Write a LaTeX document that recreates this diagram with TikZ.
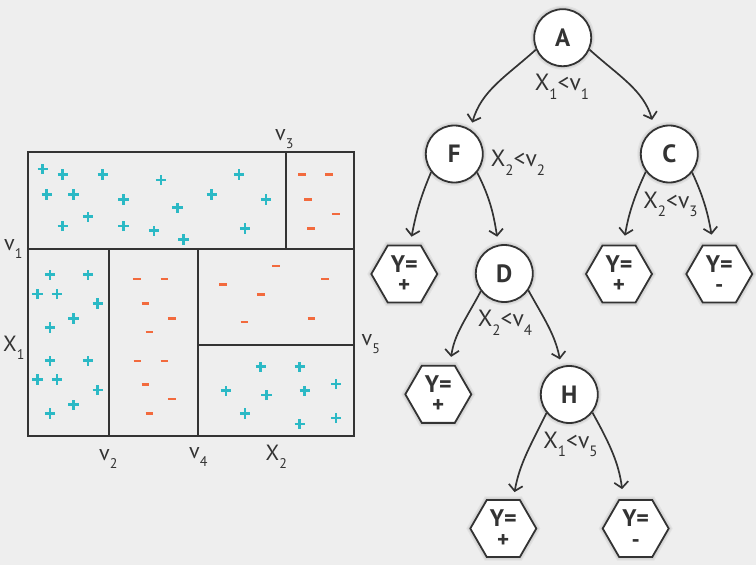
\documentclass[tikz,border=0pt]{standalone}
\usepackage{fontspec}
\setmainfont{PT Sans}
\usetikzlibrary{shapes.geometric,arrows.meta}
\definecolor{bg}{HTML}{EEEEEE}
\definecolor{ink}{HTML}{333333}
\definecolor{pluscol}{HTML}{2BB9C5}
\definecolor{minuscol}{HTML}{F26A3D}
\newcommand\mysub[1]{\raisebox{-8pt}{\fontsize{14}{14}\selectfont #1}}
\newcommand\mysubb[1]{\raisebox{-8.5pt}{\fontsize{15}{15}\selectfont #1}}
\tikzset{
  grid line/.style={draw=ink,line width=2pt},
  plusm/.style={draw=pluscol,line width=2.6pt},
  minusm/.style={draw=minuscol,line width=2.4pt},
  halo/.style={preaction={draw=black,draw opacity=0.05,line width=7pt},
               preaction={draw=black,draw opacity=0.05,line width=4.5pt}},
  tnode/.style={circle,draw=ink,fill=white,line width=1.8pt,minimum size=57pt,inner sep=0pt,
    font=\fontsize{25}{25}\selectfont\bfseries,text=ink,halo},
  hexa/.style={regular polygon,regular polygon sides=6,draw=ink,fill=white,line width=1.8pt,
    minimum size=66pt,inner sep=0pt,align=center,
    font=\fontsize{24}{20.5}\selectfont\bfseries,text=ink,halo},
  cond/.style={inner sep=0pt,anchor=base,font=\fontsize{23.5}{23.5}\selectfont,text=ink},
  axlab/.style={inner sep=0pt,anchor=base west,font=\fontsize{22}{22}\selectfont,text=ink},
  arr/.style={draw=ink,line width=1.7pt,-{Straight Barb[length=6pt,width=14pt]}},
}
\newcommand\hexsign[1]{{\fontsize{23}{20.5}\selectfont #1}}
\begin{document}
\begin{tikzpicture}[x=1pt,y=1pt]
\fill[bg] (0,0) rectangle (756,-565);
\useasboundingbox (0,0) rectangle (756,-565);

% ---------- left panel ----------
\foreach \x/\y in {42.7/169,62.7/174.3,102.7/174.3,161/180,239/174.3,46.7/194.3,73.3/194.3,
  123.3/199.3,177.3/207.7,211.7/194.3,266/199.3,88/216.7,62.7/226,123.3/226,154/230.7,
  183.3/239.3,245/228.3,
  50/274.7,88/274.7,37.3/294,57/294,97.7/303.3,73.3/318.3,50/327.3,50/360.7,88/360.7,
  37.3/379.3,57/379.3,97.7/390,73.3/404.7,50/413.3,
  260.7/366.7,299.7/366.7,226/390.7,266.3/395,304.7/390.7,336/384,245/413.3,299.7/424,336/418}
  {\draw[plusm] (\x-5.2,-\y) -- (\x+5.2,-\y) (\x,-\y-5.2) -- (\x,-\y+5.2);}
\foreach \x/\y in {302/174.3,329/174.3,308/199.3,335.7/213.7,311/228.3,
  136.7/279,164.3/279,145.3/303.3,171.7/318.3,149.3/332,137.3/361,164.3/361,145.3/384.3,
  171.7/398.7,149.3/413.3,
  276/265.7,223/284.3,260.7/294.3,325/279,244.3/322,311.3/318.3}
  {\draw[minusm] (\x-3.8,-\y) -- (\x+3.8,-\y);}

\draw[grid line] (28,-152) rectangle (354,-436);
\draw[grid line] (28,-249) -- (354,-249);
\draw[grid line] (285.7,-152) -- (285.7,-249);
\draw[grid line] (109,-249) -- (109,-436);
\draw[grid line] (198,-249) -- (198,-436);
\draw[grid line] (198,-345) -- (354,-345);

\node[axlab] (lv3) at (275,-140) {v\mysub{3}};
\node[axlab] (lv1) at (4,-250) {v\mysub{1}};
\node[axlab] (lx1) at (3,-351.7) {X\mysub{1}};
\node[axlab] (lv2) at (99,-460) {v\mysub{2}};
\node[axlab] (lv4) at (189,-458.3) {v\mysub{4}};
\node[axlab] (lx2) at (265.5,-460) {X\mysub{2}};
\node[axlab] (lv5) at (361.5,-345) {v\mysub{5}};

% ---------- tree ----------
\node[tnode] (A) at (562.7,-37.7) {A};
\node[tnode] (F) at (454.3,-154) {F};
\node[tnode] (C) at (669.3,-154) {C};
\node[tnode] (D) at (504.3,-273.5) {D};
\node[tnode] (H) at (569.3,-394.5) {H};

\node[hexa] (L1) at (404.3,-274) {Y=\\\hexsign{+}};
\node[hexa] (L2) at (438.3,-394.3) {Y=\\\hexsign{+}};
\node[hexa] (L3) at (503.3,-528.5) {Y=\\\hexsign{+}};
\node[hexa] (L4) at (635.7,-528.5) {Y=\\\hexsign{-}};
\node[hexa] (L5) at (619,-274) {Y=\\\hexsign{+}};
\node[hexa] (L6) at (719.3,-274) {Y=\\\hexsign{-}};

\draw[arr,shorten >=7pt] (A.204) to[out=222,in=74] (F.57);
\draw[arr,shorten >=9pt] (A.336) to[out=318,in=106] (C.120);
\draw[arr,shorten >=8pt] (F.218) to[out=247,in=79] ([xshift=5.7pt]L1.north);
\draw[arr,shorten >=7.5pt] (F.321) to[out=297,in=99] ([xshift=-6pt]D.north);
\draw[arr,shorten >=8pt] (D.217) to[out=242,in=82] ([xshift=11.7pt]L2.north);
\draw[arr,shorten >=7pt] (D.325) to[out=299,in=101] (H.106);
\draw[arr,shorten >=7pt] (H.219) to[out=244,in=80] ([xshift=10pt]L3.north);
\draw[arr,shorten >=10pt] (H.322) to[out=299,in=97] ([xshift=-12.4pt]L4.north);
\draw[arr,shorten >=9pt] (C.217) to[out=245,in=80] ([xshift=4.3pt]L5.north);
\draw[arr,shorten >=10pt] (C.321) to[out=295,in=100] ([xshift=-6pt]L6.north);

\node[cond] (cA) at (562,-90.7) {X\mysubb{1}<v\mysubb{1}};
\node[cond] (cF) at (518,-166.7) {X\mysubb{2}<v\mysubb{2}};
\node[cond] (cD) at (505,-326.7) {X\mysubb{2}<v\mysubb{4}};
\node[cond] (cH) at (570.5,-448.3) {X\mysubb{1}<v\mysubb{5}};
\node[cond] (cC) at (670.5,-208.3) {X\mysubb{2}<v\mysubb{3}};
\end{tikzpicture}
\end{document}
